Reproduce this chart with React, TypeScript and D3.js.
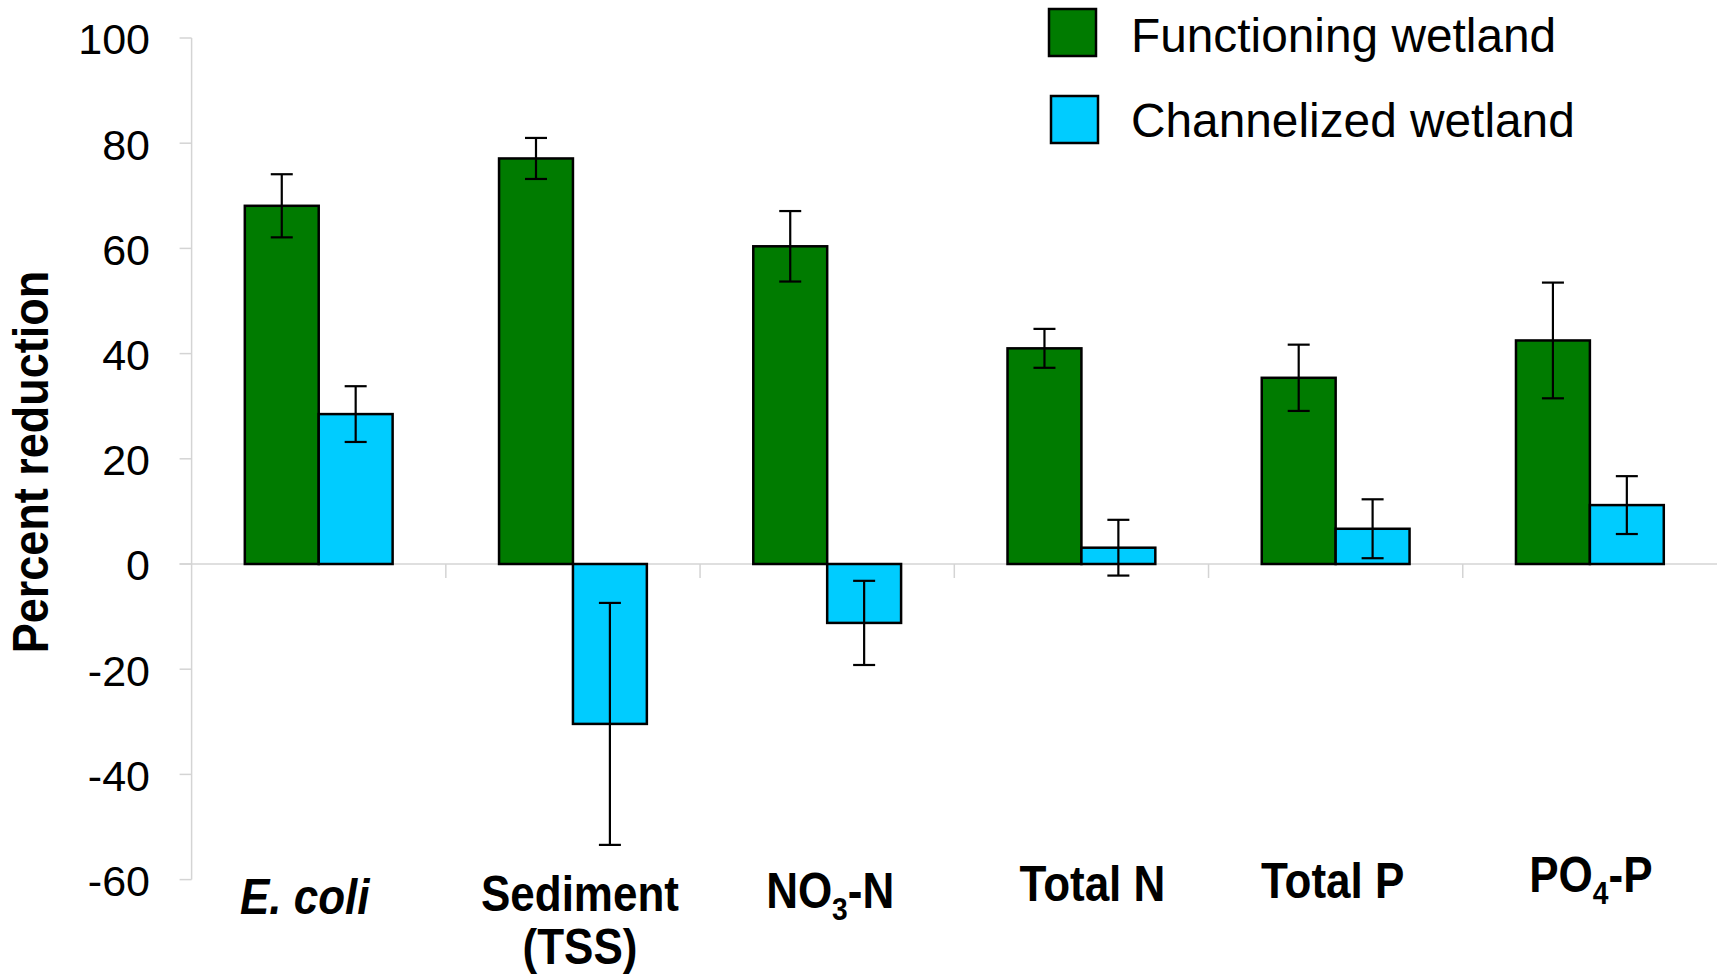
import React from "react";
import * as d3 from "d3";

const width = 1717;
const height = 974;

// categories along the x axis
const categories = ["ecoli", "sediment", "no3", "totalN", "totalP", "po4"];
const series = ["Functioning wetland", "Channelized wetland"];
const seriesColors = ["#007b00", "#00ccff"];

// percent reduction
const functioningValues = [68.1, 77.1, 60.4, 41.0, 35.4, 42.5];
const functioningErrors = [6.0, 3.9, 6.7, 3.7, 6.3, 11.0];
const channelizedValues = [28.5, -30.4, -11.2, 3.1, 6.7, 11.2];
const channelizedErrors = [5.3, 23.0, 8.0, 5.3, 5.6, 5.5];

const yTicks = [-60, -40, -20, 0, 20, 40, 60, 80, 100];

// label pieces: sub = subscript
const categoryLabels = [
  [[{ t: "E. coli", italic: true }]],
  [[{ t: "Sediment" }], [{ t: "(TSS)" }]],
  [[{ t: "NO" }, { t: "3", sub: true }, { t: "-N" }]],
  [[{ t: "Total N" }]],
  [[{ t: "Total P" }]],
  [[{ t: "PO" }, { t: "4", sub: true }, { t: "-P" }]],
];

// hand placement of the category labels (as in the original slide)
const labelShift = [-14, 7, 3, 11, -3, 1];
const labelBaseline = [914, 911, 908, 901, 898, 892];

const font = "'Liberation Sans', Arial, Helvetica, sans-serif";

const App = () => {
  const plotLeft = 191.6;
  const y = d3.scaleLinear().domain([-60, 100]).range([879.6, 38]);
  const x = d3.scaleBand<string>().domain(categories).range([plotLeft, width]).padding(0);
  const bw = x.bandwidth();
  const x1 = d3
    .scaleBand<string>()
    .domain(series)
    .range([0, bw])
    .paddingInner(0)
    .paddingOuter(0.72);

  const values = [functioningValues, channelizedValues];
  const errors = [functioningErrors, channelizedErrors];
  const grid = "#d4d4d4";

  return (
    <svg
      width={width}
      height={height}
      style={{ position: "absolute", left: 0, top: 0, background: "#fff" }}
      fontFamily={font}
    >
      {/* y axis */}
      <line x1={plotLeft} x2={plotLeft} y1={y(100)} y2={y(-60)} stroke={grid} strokeWidth={1.5} />
      {yTicks.map((t) => (
        <g key={t}>
          <line x1={plotLeft - 12} x2={plotLeft} y1={y(t)} y2={y(t)} stroke={grid} strokeWidth={1.5} />
          <text x={150} y={y(t)} dy="0.38em" textAnchor="end" fontSize={43} fill="#000">
            {t}
          </text>
        </g>
      ))}
      {/* zero line with category dividers */}
      <line x1={plotLeft - 12} x2={width} y1={y(0)} y2={y(0)} stroke={grid} strokeWidth={1.5} />
      {categories.slice(1).map((c) => (
        <line key={c} x1={x(c)} x2={x(c)} y1={y(0)} y2={y(0) + 14} stroke={grid} strokeWidth={1.5} />
      ))}

      {/* bars */}
      {categories.map((c, i) =>
        series.map((s, j) => {
          const v = values[j][i];
          const e = errors[j][i];
          const bx = (x(c) as number) + (x1(s) as number);
          const w = x1.bandwidth();
          const cx = bx + w / 2;
          return (
            <g key={c + s}>
              <rect
                x={bx}
                y={y(Math.max(v, 0))}
                width={w}
                height={Math.abs(y(v) - y(0))}
                fill={seriesColors[j]}
                stroke="#000"
                strokeWidth={2.5}
              />
              <line x1={cx} x2={cx} y1={y(v + e)} y2={y(v - e)} stroke="#000" strokeWidth={2.2} />
              <line x1={cx - 11} x2={cx + 11} y1={y(v + e)} y2={y(v + e)} stroke="#000" strokeWidth={2.2} />
              <line x1={cx - 11} x2={cx + 11} y1={y(v - e)} y2={y(v - e)} stroke="#000" strokeWidth={2.2} />
            </g>
          );
        })
      )}

      {/* category labels */}
      {categories.map((c, i) => {
        const cx = (x(c) as number) + bw / 2 + labelShift[i];
        return categoryLabels[i].map((line, k) => (
          <text
            key={c + k}
            transform={`translate(${cx},${labelBaseline[i] + k * 53}) scale(0.88,1)`}
            textAnchor="middle"
            fontSize={50}
            fontWeight="bold"
            fill="#000"
          >
            {line.map((p: any, n) => (
              <tspan
                key={n}
                fontStyle={p.italic ? "italic" : "normal"}
                fontSize={p.sub ? 32 : 50}
                dy={p.sub ? 12 : n > 0 && line[n - 1] && (line[n - 1] as any).sub ? -12 : 0}
              >
                {p.t}
              </tspan>
            ))}
          </text>
        ));
      })}

      {/* y title */}
      <text
        transform={`translate(48,462) rotate(-90) scale(0.9,1)`}
        textAnchor="middle"
        fontSize={50}
        fontWeight="bold"
        fill="#000"
      >
        Percent reduction
      </text>

      {/* legend */}
      {series.map((s, j) => (
        <g key={s}>
          <rect
            x={1049 + j * 2}
            y={9 + j * 87}
            width={47}
            height={47}
            fill={seriesColors[j]}
            stroke="#000"
            strokeWidth={2.5}
          />
          <text x={1131} y={35 + j * 85} dy="0.35em" fontSize={47.8} fill="#000">
            {s}
          </text>
        </g>
      ))}
    </svg>
  );
};

export default App;
